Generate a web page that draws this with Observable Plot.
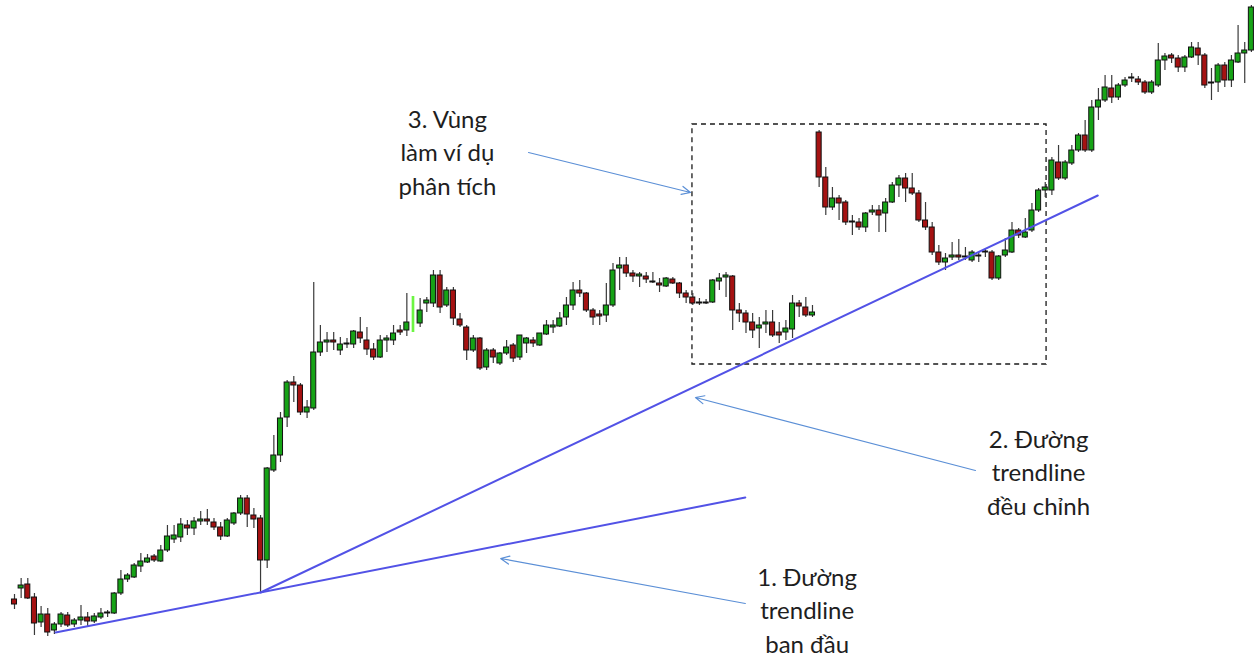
<!DOCTYPE html>
<html>
<head>
<meta charset="utf-8">
<script src="https://cdn.jsdelivr.net/npm/d3@7"></script>
<script src="https://cdn.jsdelivr.net/npm/@observablehq/plot@0.6"></script>
<style>
  html, body { margin: 0; padding: 0; background: #ffffff; }
  #chart svg { display: block; }
</style>
</head>
<body>
<div id="chart"></div>
<script>
// Candle values (arbitrary price units, higher = up), one per session
const opens = [
  61,72,76,63,38,46,30,36,45,36,
  40,43,39,43,47,47,67,81,83,94,
  98,104,99,110,121,123,135,132,139,141,
  138,133,124,137,147,162,145,142,100,190,
  205,243,278,275,248,252,308,318,320,310,
  317,316,328,320,311,303,320,320,330,330,
  330,337,357,357,385,355,370,341,333,310,
  322,293,310,297,307,315,303,317,320,315,
  326,333,334,343,355,370,367,350,346,345,
  355,392,395,387,384,384,379,377,374,381,
  377,367,363,357,358,358,379,383,384,350,
  347,338,332,336,338,328,328,331,357,353,
  345,528,483,453,462,458,439,438,433,448,
  450,447,458,475,482,472,467,440,433,408,
  398,403,405,403,400,404,408,408,382,405,
  408,430,423,430,450,470,470,498,482,497,
  510,525,510,553,560,572,563,575,582,581,
  578,568,575,600,605,602,593,603,612,605,
  577,578,595,580,598,607,610
];
const highs = [
  66,82,82,67,54,52,38,48,48,42,
  55,48,47,52,50,68,90,87,97,107,
  106,106,115,135,135,142,140,143,149,151,
  142,138,142,148,165,165,152,145,193,225,
  248,280,284,277,260,378,335,328,328,323,
  322,330,343,333,317,325,325,335,335,367,
  364,362,363,390,390,373,373,347,335,325,
  323,312,312,308,320,317,325,323,323,327,
  340,340,348,363,378,380,368,352,350,377,
  397,403,403,390,388,388,388,382,383,383,
  378,370,367,362,361,381,387,388,385,357,
  350,347,343,350,350,338,340,365,360,363,
  355,530,493,473,465,460,445,442,448,455,
  455,462,478,485,487,487,470,458,438,415,
  407,418,421,413,410,408,411,410,405,422,
  438,432,442,457,472,478,503,515,500,515,
  527,540,560,572,585,585,577,583,587,584,
  580,580,617,607,607,605,605,618,618,607,
  592,597,598,605,635,618,655
];
const lows = [
  51,62,61,25,33,24,26,33,33,33,
  35,33,37,41,43,46,65,78,82,88,
  97,98,98,108,117,118,125,125,135,135,
  130,120,123,135,145,133,132,68,92,188,
  198,233,258,245,242,250,304,308,310,305,
  312,312,317,305,300,302,308,315,325,324,
  328,333,348,353,347,353,335,333,300,308,
  290,290,297,295,305,298,300,307,313,314,
  325,327,333,335,350,363,348,335,335,338,
  353,370,383,378,373,377,377,368,373,376,
  362,357,355,355,356,357,370,363,330,338,
  327,322,312,327,323,317,320,322,343,343,
  343,473,445,450,440,435,425,430,428,445,
  428,428,457,463,458,465,438,430,405,395,
  390,400,400,400,398,398,403,380,380,403,
  407,422,422,428,448,463,465,480,480,495,
  508,508,508,540,558,557,560,573,578,575,
  566,566,573,590,597,588,588,602,595,572,
  560,568,573,573,597,577,608
];
const closes = [
  56,75,62,37,46,28,36,46,35,40,
  43,39,44,47,48,67,81,85,95,99,
  102,100,110,124,125,136,132,139,141,139,
  133,124,140,147,162,146,141,100,192,205,
  242,278,275,248,253,308,318,320,318,316,
  316,329,322,311,303,320,322,327,328,338,
  362,350,360,385,353,370,342,335,310,322,
  292,310,303,307,313,302,325,322,317,327,
  335,335,342,355,370,367,350,343,344,355,
  390,395,387,384,386,381,378,375,382,377,
  367,363,357,358,357,380,382,385,350,347,
  338,330,335,338,325,325,332,357,354,345,
  348,483,453,462,457,438,438,433,447,450,
  445,458,475,482,472,467,440,433,408,398,
  402,405,403,404,408,405,409,382,404,410,
  430,425,428,450,470,473,500,482,498,510,
  525,510,553,560,573,563,575,580,583,578,
  568,578,600,604,602,593,603,613,605,575,
  578,595,580,600,607,610,653
];
// session highlighted in bright green on the original chart
const highlighted = [60];

// Trendlines: [session, price] end points
const trendInitial = [[6.17, 28], [109.9, 163]];
const trendAdjusted = [[37, 68], [162.9, 465]];

// Dashed box of the analysis zone
const zoneBox = [{x1: 101.95, x2: 155.2, y1: 296, y2: 536}];

// Annotation labels and arrows
const labelTexts = ["3. Vùng\nlàm ví dụ\nphân tích", "2. Đường\ntrendline\nđều chỉnh", "1. Đường\ntrendline\nban đầu"];
const labelX = [65.1, 154.0, 119.2];
const labelY = [510, 190, 52];
const arrowFrom = [[77.3, 508], [144.5, 190], [109.9, 57]];
const arrowTo = [[101.65, 468], [102.4, 263], [73.1, 102]];

const candles = opens.map((o, i) => ({
  i, open: o, high: highs[i], low: lows[i], close: closes[i],
  kind: highlighted.includes(i) ? "hl" : (closes[i] >= o ? "up" : "down")
}));
const normal = candles.filter(d => d.kind !== "hl");
const special = candles.filter(d => d.kind === "hl");
const labels = labelTexts.map((t, k) => ({text: t, x: labelX[k], y: labelY[k]}));
const arrows = arrowFrom.map((f, k) => ({x1: f[0], y1: f[1], x2: arrowTo[k][0], y2: arrowTo[k][1]}));

const halfBody = 0.38;
const chart = Plot.plot({
  width: 1258,
  height: 658,
  margin: 0,
  x: {type: "linear", domain: [-2.105, 187.07], axis: null},
  y: {domain: [2, 660], axis: null},
  color: {domain: ["up", "down"], range: ["#16a316", "#a51212"]},
  marks: [
    Plot.rect(zoneBox, {x1: "x1", x2: "x2", y1: "y1", y2: "y2", fill: "none", stroke: "#1a1a1a", strokeWidth: 1.3, strokeDasharray: "5,4"}),
    Plot.ruleX(normal, {x: "i", y1: "low", y2: "high", stroke: "#3a3a3a", strokeWidth: 1.2}),
    Plot.rect(normal, {x1: d => d.i - halfBody, x2: d => d.i + halfBody, y1: "open", y2: "close", fill: "kind", stroke: "#111", strokeWidth: 1}),
    Plot.rect(special, {x1: d => d.i - 0.2, x2: d => d.i + 0.2, y1: "low", y2: "high", fill: "#6cf542"}),
    Plot.line(trendInitial, {x: d => d[0], y: d => d[1], stroke: "#5252e6", strokeWidth: 2}),
    Plot.line(trendAdjusted, {x: d => d[0], y: d => d[1], stroke: "#5252e6", strokeWidth: 2}),
    Plot.arrow(arrows, {x1: "x1", y1: "y1", x2: "x2", y2: "y2", stroke: "#5b8fd6", strokeWidth: 1.2, headLength: 12, headAngle: 50}),
    Plot.text(labels, {x: "x", y: "y", text: "text", fontSize: 24, lineHeight: 1.4, fill: "#1e1e1e", fontFamily: "Lato, 'Open Sans', sans-serif", textAnchor: "middle"})
  ]
});
document.getElementById("chart").appendChild(chart);
</script>
</body>
</html>
